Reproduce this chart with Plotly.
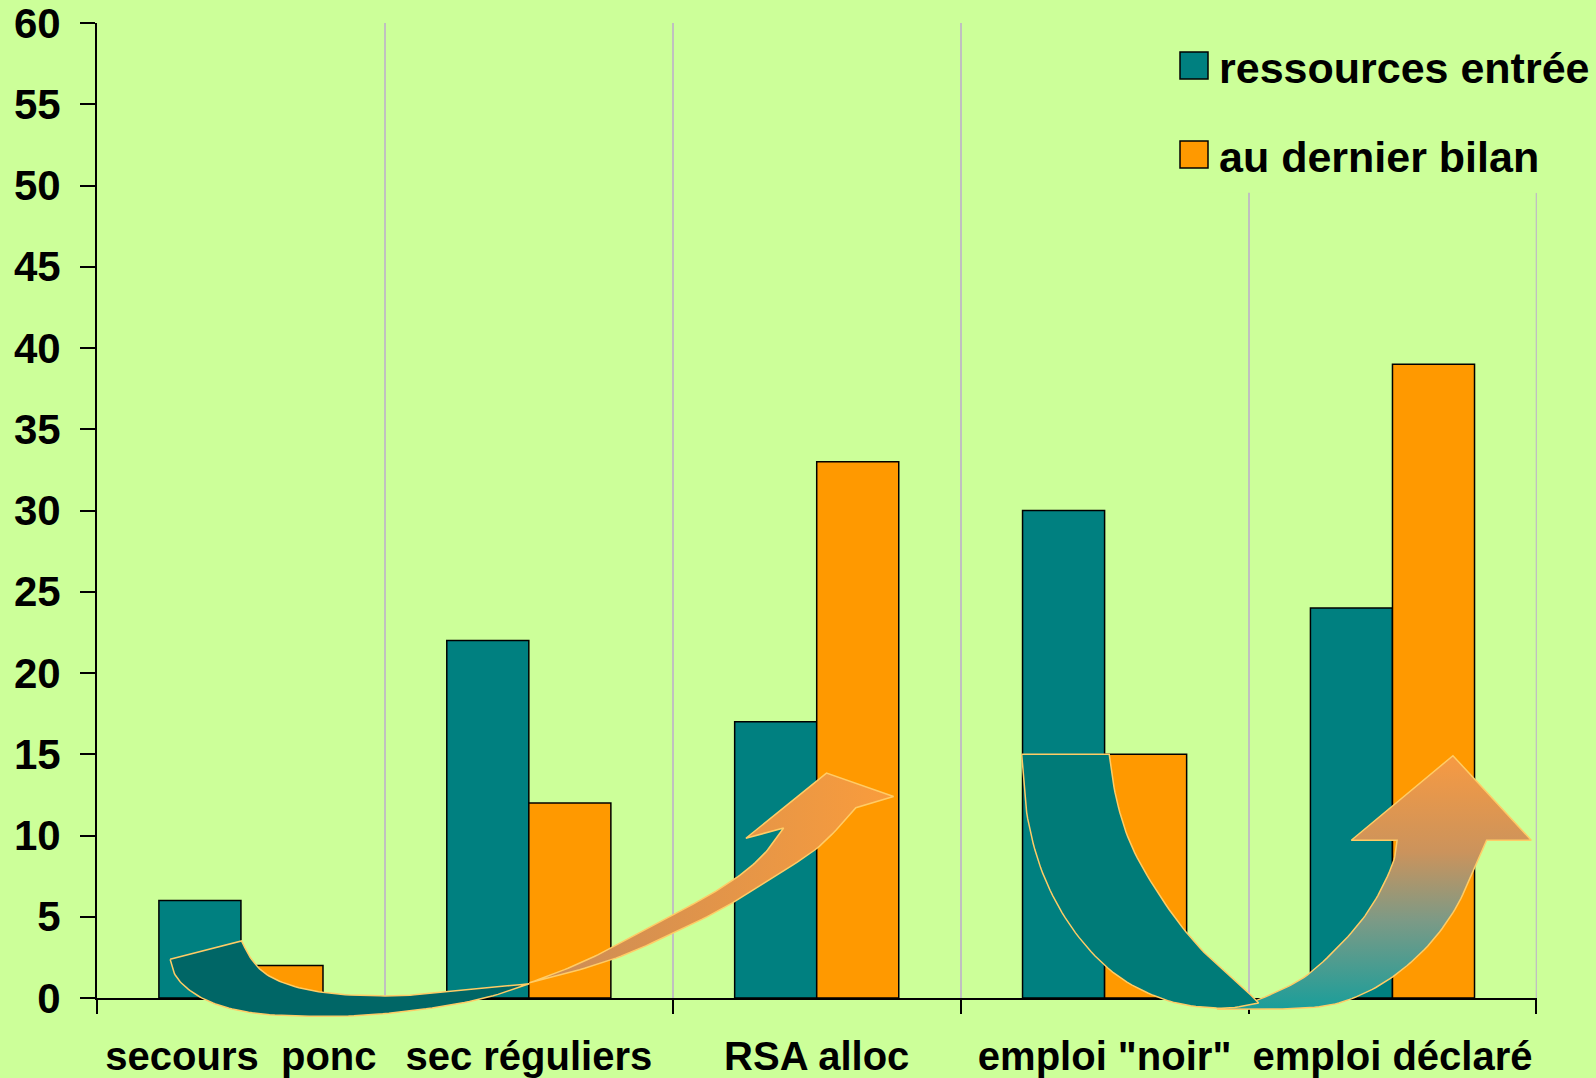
import plotly.graph_objects as go

# ---- data -------------------------------------------------------------
categories = ["secours\u00a0 ponc", "sec réguliers", "RSA alloc", 'emploi "noir"', "emploi déclaré"]
series_names = ["ressources entrée", "au dernier bilan"]
entree = [6, 22, 17, 30, 24]
dernier_bilan = [2, 12, 33, 15, 39]
y_ticks = list(range(0, 61, 5))

# ---- decorative arrows (category position, value) ----------------------
# left arrow, dark tail: outer curve then inner curve
a1_tail_outer_x = [-0.246, -0.231, -0.193, -0.129, -0.041, 0.083, 0.277, 0.472, 0.684, 0.860, 1.002]
a1_tail_outer_y = [2.38, 1.50, 0.69, -0.06, -0.63, -1.00, -1.13, -1.00, -0.56, 0.06, 0.88]
a1_tail_inner_x = [1.002, 0.825, 0.648, 0.500, 0.330, 0.189, 0.090, 0.037, 0.002]
a1_tail_inner_y = [0.88, 0.56, 0.25, 0.13, 0.25, 0.69, 1.44, 2.38, 3.51]
# left arrow, orange head: lower edge, arrow tip, upper edge
a1_head_lower_x = [1.002, 1.143, 1.320, 1.496, 1.673, 1.850, 2.009, 2.136]
a1_head_lower_y = [0.94, 1.57, 2.57, 3.95, 5.51, 7.45, 9.33, 11.71]
a1_head_tip_x = [2.267, 2.034, 1.754]
a1_head_tip_y = [12.40, 13.84, 9.83]
a1_head_upper_x = [1.885, 1.822, 1.744, 1.638, 1.496, 1.355, 1.214, 1.090, 1.002]
a1_head_upper_y = [10.46, 8.96, 7.70, 6.45, 5.07, 3.70, 2.44, 1.50, 0.94]
# right arrow, teal band going down: outer curve then inner curve
a2_down_outer_x = [2.712, 2.733, 2.793, 2.899, 3.044, 3.224, 3.405, 3.535]
a2_down_outer_y = [15.0, 11.02, 7.33, 4.01, 1.38, -0.19, -0.63, -0.31]
a2_down_inner_x = [3.535, 3.500, 3.345, 3.224, 3.104, 3.044, 3.016]
a2_down_inner_y = [-0.31, 0.31, 2.82, 5.45, 8.96, 12.02, 15.0]
# right arrow, gradient band going up: outer curve, arrow tip, inner curve
a2_up_outer_x = [3.390, 3.581, 3.761, 3.882, 4.002, 4.122, 4.217, 4.277, 4.327]
a2_up_outer_y = [-0.69, -0.69, -0.50, 0.13, 1.32, 3.19, 5.45, 7.70, 9.71]
a2_up_tip_x = [4.482, 4.210, 3.857]
a2_up_tip_y = [9.71, 14.91, 9.71]
a2_up_inner_x = [4.016, 4.002, 3.942, 3.857, 3.716, 3.606, 3.521]
a2_up_inner_y = [9.71, 8.33, 6.08, 4.01, 1.57, 0.44, -0.19]

# ---- style ------------------------------------------------------------
BG = "#CCFF99"
TEAL = "#008080"
ORANGE = "#FF9900"
GRID = "#C0C0C0"
OUTLINE = "#FFCC66"
FONT = "Arial, Liberation Sans, sans-serif"

W, H = 1596, 1078
M_L, M_R, M_T, M_B = 97, 59, 23, 20
PLOT_H = H - M_T - M_B
AXIS_BOTTOM_PX = 998                       # pixel row of value 0
D0 = (H - M_B - AXIS_BOTTOM_PX) / PLOT_H   # bottom of the main y domain
Y_MAX = 60
Y2_MIN = -Y_MAX * D0 / (1 - D0)            # overlay axis matching the main scale
X_RANGE = [-0.5, len(categories) - 0.5 + 0.002]
LEGEND_PANEL_BOTTOM = 49.55                # value where the legend panel ends


def smooth(xs, ys, n=10):
    """Catmull-Rom curve through the given points."""
    px = [xs[0]] + list(xs) + [xs[-1]]
    py = [ys[0]] + list(ys) + [ys[-1]]
    out_x, out_y = [], []
    for i in range(1, len(px) - 2):
        for k in range(n):
            t = k / n
            t2, t3 = t * t, t * t * t
            def cr(p):
                return 0.5 * (2 * p[i] + (-p[i - 1] + p[i + 1]) * t
                              + (2 * p[i - 1] - 5 * p[i] + 4 * p[i + 1] - p[i + 2]) * t2
                              + (-p[i - 1] + 3 * p[i] - 3 * p[i + 1] + p[i + 2]) * t3)
            out_x.append(cr(px))
            out_y.append(cr(py))
    out_x.append(xs[-1])
    out_y.append(ys[-1])
    return out_x, out_y


def outline(*parts):
    """Join curved (smoothed) and straight parts into one closed outline."""
    xs, ys = [], []
    for (px, py), curved in parts:
        if curved:
            px, py = smooth(px, py)
        xs += list(px)
        ys += list(py)
    return xs + xs[:1], ys + ys[:1]


xpos = list(range(len(categories)))

fig = go.Figure()

fig.add_trace(go.Bar(
    x=xpos, y=entree, name=series_names[0],
    marker=dict(color=TEAL, line=dict(color="black", width=1.5)),
    showlegend=False,
))
fig.add_trace(go.Bar(
    x=xpos, y=dernier_bilan, name=series_names[1],
    marker=dict(color=ORANGE, line=dict(color="black", width=1.5)),
    showlegend=False,
))

arrow_common = dict(mode="lines", fill="toself", xaxis="x2", yaxis="y2",
                    line=dict(color=OUTLINE, width=1.5), hoverinfo="skip", showlegend=False)

hx, hy = outline(((a1_head_lower_x, a1_head_lower_y), True),
                 ((a1_head_tip_x, a1_head_tip_y), False),
                 ((a1_head_upper_x, a1_head_upper_y), True))
fig.add_trace(go.Scatter(
    x=hx, y=hy,
    fillgradient=dict(type="horizontal", start=1.0, stop=2.25,
                      colorscale=[[0, "#C98C58"], [1, "#F99C3C"]]),
    **arrow_common,
))
tx, ty = outline(((a1_tail_outer_x, a1_tail_outer_y), True),
                 ((a1_tail_inner_x, a1_tail_inner_y), True))
fig.add_trace(go.Scatter(x=tx, y=ty, fillcolor="#006666", **arrow_common))

ux, uy = outline(((a2_up_outer_x, a2_up_outer_y), True),
                 ((a2_up_tip_x, a2_up_tip_y), False),
                 ((a2_up_inner_x, a2_up_inner_y), True))
fig.add_trace(go.Scatter(
    x=ux, y=uy,
    fillgradient=dict(type="vertical", start=-0.7, stop=14.9,
                      colorscale=[[0, "#1A9E9A"], [0.35, "#7C9A86"],
                                  [0.62, "#CB935C"], [1, "#F79A42"]]),
    **arrow_common,
))
dx, dy = outline(((a2_down_outer_x, a2_down_outer_y), True),
                 ((a2_down_inner_x, a2_down_inner_y), True))
fig.add_trace(go.Scatter(x=dx, y=dy, fillcolor="#007B78", **arrow_common))

fig.update_layout(
    width=W, height=H,
    margin=dict(l=M_L, r=M_R, t=M_T, b=M_B, pad=0, autoexpand=False),
    paper_bgcolor=BG, plot_bgcolor="rgba(0,0,0,0)",
    barmode="group", bargap=0.43, bargroupgap=0,
    showlegend=False,
    xaxis=dict(
        domain=[0, 1], range=X_RANGE, automargin=False,
        tickmode="array", tickvals=xpos, ticktext=categories,
        ticks="", showgrid=False, zeroline=False,
        showline=True, linecolor="black", linewidth=2,
        tickfont=dict(family=FONT, size=40, color="black", weight="bold"),
        ticklabelstandoff=22, ticklabeloverflow="allow",
        minor=dict(tickmode="array",
                   tickvals=[i - 0.5 for i in range(len(categories) + 1)],
                   ticks="outside", ticklen=14, tickwidth=2, tickcolor="black",
                   showgrid=True, gridcolor=GRID, gridwidth=1.5),
    ),
    yaxis=dict(
        domain=[D0, 1], range=[0, Y_MAX], automargin=False,
        tickmode="array", tickvals=y_ticks,
        ticks="outside", ticklen=15, tickwidth=2, tickcolor="black",
        showgrid=False, zeroline=False,
        showline=True, linecolor="black", linewidth=2,
        tickfont=dict(family=FONT, size=42, color="black", weight="bold"),
        ticklabelstandoff=11, ticklabeloverflow="allow",
    ),
    xaxis2=dict(domain=[0, 1], range=X_RANGE,
                anchor="y2", visible=False, fixedrange=True),
    yaxis2=dict(domain=[0, 1], range=[Y2_MIN, Y_MAX],
                anchor="x2", visible=False, fixedrange=True),
)

# category boundary on the right edge of the plot
fig.add_shape(type="line", xref="x", yref="y",
              x0=len(categories) - 0.5, x1=len(categories) - 0.5,
              y0=0, y1=LEGEND_PANEL_BOTTOM,
              line=dict(color=GRID, width=1.5), layer="below")

# legend panel: masks the category grid behind it
fig.add_shape(type="rect", xref="x", yref="y", x0=3.2, x1=X_RANGE[1],
              y0=LEGEND_PANEL_BOTTOM, y1=Y_MAX,
              fillcolor=BG, line=dict(width=0), layer="above")


def px_x(px):
    return (px - M_L) / (W - M_L - M_R)


def px_y(py):
    return (H - M_B - py) / PLOT_H


legend_rows = [(series_names[0], TEAL, 52, 79), (series_names[1], ORANGE, 141, 168)]
for name, color, top, bottom in legend_rows:
    fig.add_shape(type="rect", xref="paper", yref="paper",
                  x0=px_x(1180), x1=px_x(1208), y0=px_y(bottom), y1=px_y(top),
                  fillcolor=color, line=dict(color="black", width=1.5), layer="above")
    fig.add_annotation(xref="paper", yref="paper", x=px_x(1217), y=px_y((top + bottom) / 2 + 2),
                       text=name, showarrow=False, xanchor="left", yanchor="middle",
                       font=dict(family=FONT, size=43, color="black", weight="bold"))

fig.write_html("out.html")
